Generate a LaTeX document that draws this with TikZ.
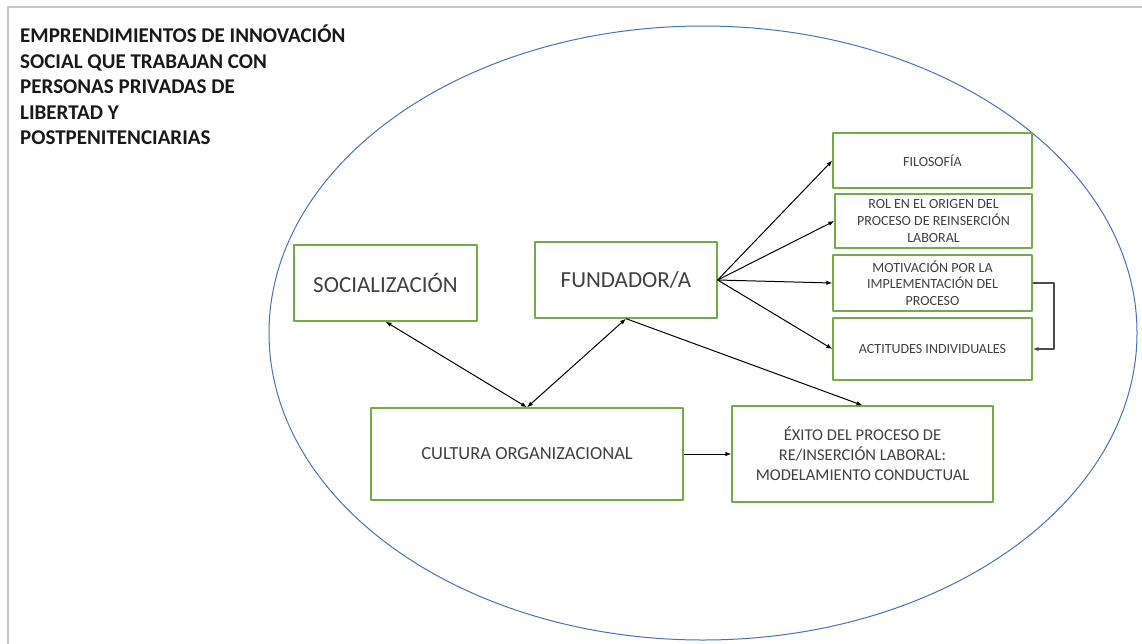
\documentclass[tikz,border=0pt]{standalone}
\usepackage{fontspec}
\setmainfont{Carlito}
\usetikzlibrary{arrows.meta}
\definecolor{boxgreen}{HTML}{70AD47}
\definecolor{ovalblue}{HTML}{4472C4}
\definecolor{framegray}{HTML}{C8C8C8}
\definecolor{txtgray}{HTML}{404040}
\begin{document}
\begin{tikzpicture}[x=1pt, y=-1pt, line join=round, >={Latex[length=6pt,width=4.5pt]},
		box/.style={draw=boxgreen, line width=1.3pt, align=center, inner sep=0pt, text=txtgray},
		small/.style={box, minimum width=199, font=\fontsize{14}{16.7}\selectfont}]
			\useasboundingbox (0,0) rectangle (1142,643);
			\draw[framegray, line width=1.8pt] (8,660) -- (8,7) -- (1160,7);
			\draw[ovalblue, line width=1pt] (703,333) ellipse (434 and 307);
			\node[anchor=north west, align=left, font=\bfseries\fontsize{21}{25.5}\selectfont, text=black!90, inner sep=0pt] (title) at (20,25)
				{EMPRENDIMIENTOS DE INNOVACIÓN\\SOCIAL QUE TRABAJAN CON\\PERSONAS PRIVADAS DE\\LIBERTAD Y\\POSTPENITENCIARIAS};
			\node[box, minimum width=183, minimum height=76, font=\fontsize{23}{28}\selectfont] (soc) at (385.5,283) {SOCIALIZACIÓN};
			\node[box, minimum width=182, minimum height=76, font=\fontsize{23}{28}\selectfont] (fund) at (626,280) {FUNDADOR/A};
			\node[box, minimum width=312, minimum height=92, font=\fontsize{18.5}{22}\selectfont] (cult) at (527,454) {CULTURA ORGANIZACIONAL};
			\node[box, minimum width=261, minimum height=96, font=\fontsize{16.5}{20}\selectfont] (exito) at (862.5,454)
				{ÉXITO DEL PROCESO DE\\RE/INSERCIÓN LABORAL:\\MODELAMIENTO CONDUCTUAL};
			\node[small, minimum height=55] (filo) at (932.5,160.5) {FILOSOFÍA};
			\node[small, minimum height=54, minimum width=197] (rol) at (933.5,221) {ROL EN EL ORIGEN DEL\\PROCESO DE REINSERCIÓN\\LABORAL};
			\node[small, minimum height=56] (motiv) at (932.5,283) {MOTIVACIÓN POR LA\\IMPLEMENTACIÓN DEL\\PROCESO};
			\node[small, minimum height=62] (act) at (932.5,349) {ACTITUDES INDIVIDUALES};
			\foreach \n in {filo,rol,motiv,act} \draw[->, line width=1pt] (fund.east) -- (\n.west);
			\draw[<->, line width=1pt] (soc.south) -- (cult.north);
			\draw[<->, line width=1pt] (fund.south) -- (cult.north);
			\draw[->, line width=1pt] (fund.south) -- (exito.north);
			\draw[->, line width=1pt] (cult.east) -- (exito.west);
			\draw[->, black!70, line width=1.8pt] (motiv.east) -- ++(21,0) |- (act.east);
		\end{tikzpicture}
\end{document}
